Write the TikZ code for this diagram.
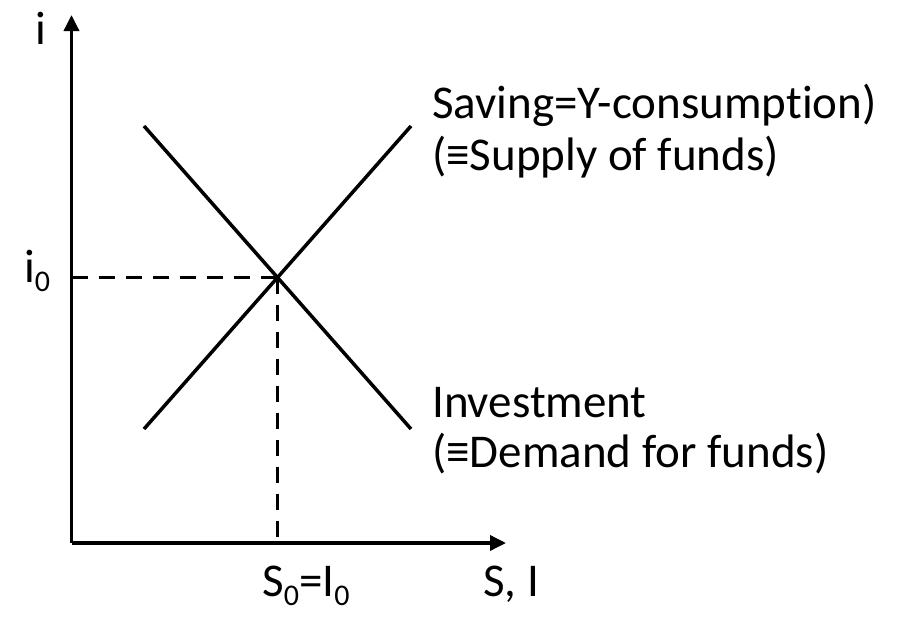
\documentclass[tikz,border=0pt]{standalone}
\usepackage{fontspec}
\setmainfont[Ligatures=NoCommon]{Carlito}
\usetikzlibrary{arrows.meta}
\newcommand\mysub[1]{\raisebox{-9pt}{\fontsize{30}{30}\selectfont #1}}
\tikzset{
  axis/.style={line width=3.5pt,-{Triangle[length=16pt,width=15pt]}},
  curve/.style={line width=3.5pt},
  guide/.style={line width=3.5pt,dash pattern=on 16pt off 11pt},
  lbl/.style={anchor=base west,inner sep=0pt,font=\fontsize{47}{56}\selectfont}
}
\begin{document}
\begin{tikzpicture}[x=1pt,y=-1pt]
\useasboundingbox (0,0) rectangle (902,616);
\coordinate (O) at (71.5,543);
\coordinate (ytop) at (71.5,15);
\coordinate (xend) at (506,543);
\coordinate (E) at (277.5,277.5);
\coordinate (s1) at (144,429);
\coordinate (s2) at (411,126);
\coordinate (d1) at (144,126);
\coordinate (d2) at (411,429);
\coordinate (ey) at (71.5,277.5);
\coordinate (ex) at (277.5,543);
\draw[axis] (O) -- (ytop);
\draw[axis] (O) -- (xend);
\draw[curve] (s1) -- (s2);
\draw[curve] (d1) -- (d2);
\draw[guide] (ey) -- (E);
\draw[guide] (E) -- (ex);
\node[lbl] (li) at (35,44) {i};
\node[lbl] (li0) at (24,282) {i\mysub{0}};
\node[lbl] (ls0) at (262,596) {S\mysub{0}=I\mysub{0}};
\node[lbl] (lsi) at (483,596) {S, I};
\node[lbl] (sav1) at (432,118) {Saving=Y-consumption)};
\node[lbl] (sav2) at (432,170) {(≡Supply of funds)};
\node[lbl] (inv1) at (432,417) {Investment};
\node[lbl] (inv2) at (432,467) {(≡Demand for funds)};
\end{tikzpicture}
\end{document}
